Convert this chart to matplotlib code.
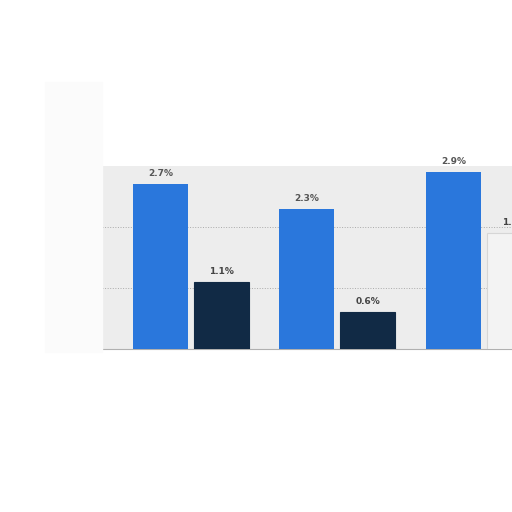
import matplotlib
matplotlib.use("Agg")
import matplotlib.pyplot as plt
import numpy as np

categories = ["Group 1", "Group 2", "Group 3"]
series_a = [2.7, 2.3, 2.9]
series_b = [1.1, 0.6, 1.9]
value_labels_a = ["2.7%", "2.3%", "2.9%"]
value_labels_b = ["1.1%", "0.6%", "1.9%"]

fig = plt.figure(figsize=(5.12, 5.12), dpi=100)
fig.patch.set_facecolor("white")

# faint left panel
fig.patches.append(plt.Rectangle((45/512, 1-352/512), 57/512, 270/512,
                                 transform=fig.transFigure, color="#fbfbfb", zorder=0))

W = 498
ax = fig.add_axes([102/512, 1-349/512, W/512, 183/512])
ax.set_facecolor("#ededed")

x = np.arange(len(categories))
bw = 0.375
off = 0.208
colors_b = ["#112a45", "#112a45", "#f3f3f3"]
edges_b = ["#112a45", "#112a45", "#d6d6d6"]
ax.bar(x - off, series_a, width=bw, color="#2a77dc", zorder=3)
ax.bar(x + off, series_b, width=bw, color=colors_b, edgecolor=edges_b, linewidth=0.8, zorder=3)

for xi, v, t in zip(x - off, series_a, value_labels_a):
    ax.text(xi, v + 0.1, t, ha="center", va="bottom", fontsize=6.5,
            color="#555555", fontweight="bold", zorder=4)
for xi, v, t in zip(x + off, series_b, value_labels_b):
    ax.text(xi, v + 0.1, t, ha="center", va="bottom", fontsize=6.5,
            color="#444444", fontweight="bold", zorder=4)

ax.set_ylim(0, 3.0)
ax.set_xlim(-0.607, -0.607 + W/146.5)
ax.set_yticks([1, 2])
ax.yaxis.grid(True, linestyle=":", color="#aaaaaa", linewidth=0.7, zorder=1)
ax.set_xticks([])
ax.tick_params(axis="y", length=0, labelleft=False)
for s in ["top", "right", "left"]:
    ax.spines[s].set_visible(False)
ax.spines["bottom"].set_color("#b0b0b0")
ax.spines["bottom"].set_linewidth(0.8)

fig.savefig("out.png", dpi=100, facecolor="white")
